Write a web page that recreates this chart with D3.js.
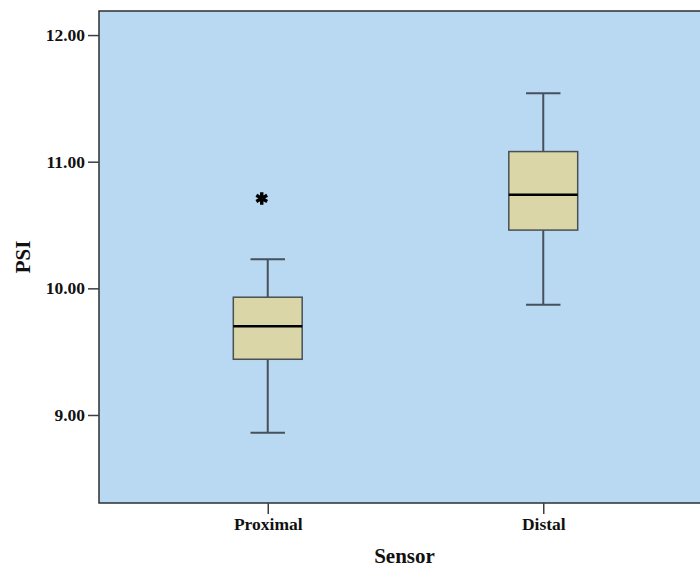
<!DOCTYPE html>
<html>
<head>
<meta charset="utf-8">
<script src="https://cdn.jsdelivr.net/npm/d3@7"></script>
<style>
  body { margin: 0; background: #fff; }
  svg { display: block; }
</style>
</head>
<body>
<div id="chart"></div>
<script>
// data
var categories = ["Proximal", "Distal"];
var whiskerLow = [8.86, 9.87];
var q1 = [9.44, 10.46];
var median = [9.70, 10.74];
var q3 = [9.93, 11.08];
var whiskerHigh = [10.23, 11.54];
var outliers = [[10.71], []];
var yTicks = [9, 10, 11, 12];

var width = 700, height = 570;
var plotLeft = 99, plotRight = 712, plotTop = 11, plotBottom = 503;

var svg = d3.select("#chart").append("svg")
    .attr("width", width).attr("height", height)
    .style("font-family", "'Liberation Serif', 'Times New Roman', serif")
    .style("font-weight", "bold");

var x = d3.scalePoint().domain(categories).range([plotLeft, plotRight]).padding(0.6125);
var y = d3.scaleLinear().domain([8.305, 12.19]).range([plotBottom, plotTop]);

// plot background
svg.append("rect")
    .attr("x", plotLeft).attr("y", plotTop)
    .attr("width", plotRight - plotLeft).attr("height", plotBottom - plotTop)
    .attr("fill", "#b9d8f1")
    .attr("stroke", "#2b2f33").attr("stroke-width", 1.5);

var boxW = x.step() * 0.25;

var boxes = categories.map(function (c, i) {
    return { name: c, lo: whiskerLow[i], q1: q1[i], med: median[i], q3: q3[i], hi: whiskerHigh[i], out: outliers[i] };
});

var g = svg.selectAll("g.box").data(boxes).enter().append("g").attr("class", "box");

// whiskers
g.append("line")
    .attr("x1", d => x(d.name)).attr("x2", d => x(d.name))
    .attr("y1", d => y(d.hi)).attr("y2", d => y(d.q3))
    .attr("stroke", "#46515c").attr("stroke-width", 2);
g.append("line")
    .attr("x1", d => x(d.name)).attr("x2", d => x(d.name))
    .attr("y1", d => y(d.q1)).attr("y2", d => y(d.lo))
    .attr("stroke", "#46515c").attr("stroke-width", 2);
// caps
g.selectAll("line.cap").data(d => [{ name: d.name, v: d.hi }, { name: d.name, v: d.lo }])
    .enter().append("line").attr("class", "cap")
    .attr("x1", d => x(d.name) - boxW / 4).attr("x2", d => x(d.name) + boxW / 4)
    .attr("y1", d => y(d.v)).attr("y2", d => y(d.v))
    .attr("stroke", "#46515c").attr("stroke-width", 2);

// box
g.append("rect")
    .attr("x", d => x(d.name) - boxW / 2)
    .attr("y", d => y(d.q3))
    .attr("width", boxW)
    .attr("height", d => y(d.q1) - y(d.q3))
    .attr("fill", "#dbd6a7")
    .attr("stroke", "#4a4f55").attr("stroke-width", 1.5);

// median
g.append("line")
    .attr("x1", d => x(d.name) - boxW / 2).attr("x2", d => x(d.name) + boxW / 2)
    .attr("y1", d => y(d.med)).attr("y2", d => y(d.med))
    .attr("stroke", "#000").attr("stroke-width", 2.5);

// outliers
g.selectAll("path.out").data(d => d.out.map(v => ({ name: d.name, v: v })))
    .enter().append("path").attr("class", "out")
    .attr("transform", d => `translate(${x(d.name) - 6},${y(d.v)})`)
    .attr("d", d3.symbol(d3.symbolAsterisk, 110))
    .attr("stroke", "#000").attr("stroke-width", 3.4).attr("fill", "none");

// axes
var yAxis = d3.axisLeft(y).tickValues(yTicks).tickFormat(d3.format(".2f"))
    .tickSize(11).tickPadding(3);
var yg = svg.append("g").attr("transform", `translate(${plotLeft},0)`).call(yAxis);
yg.select(".domain").remove();
yg.selectAll(".tick line").attr("stroke", "#3a3f44").attr("stroke-width", 1.5);
yg.selectAll(".tick text").attr("fill", "#111")
    .style("font-family", "'Liberation Serif', serif").style("font-size", "17.5px").style("font-weight", "bold");

var xAxis = d3.axisBottom(x).tickSize(11).tickPadding(4);
var xg = svg.append("g").attr("transform", `translate(0,${plotBottom})`).call(xAxis);
xg.select(".domain").remove();
xg.selectAll(".tick line").attr("stroke", "#3a3f44").attr("stroke-width", 1.5);
xg.selectAll(".tick text").attr("fill", "#111")
    .style("font-family", "'Liberation Serif', serif").style("font-size", "17.5px").style("font-weight", "bold");

// titles
svg.append("text")
    .attr("x", (plotLeft + plotRight) / 2 - 1).attr("y", 563)
    .attr("text-anchor", "middle")
    .style("font-size", "21px").attr("fill", "#111")
    .text("Sensor");
svg.append("text")
    .attr("transform", `translate(30,${(plotTop + plotBottom) / 2}) rotate(-90)`)
    .attr("text-anchor", "middle")
    .style("font-size", "21px").attr("fill", "#111")
    .text("PSI");
</script>
</body>
</html>
